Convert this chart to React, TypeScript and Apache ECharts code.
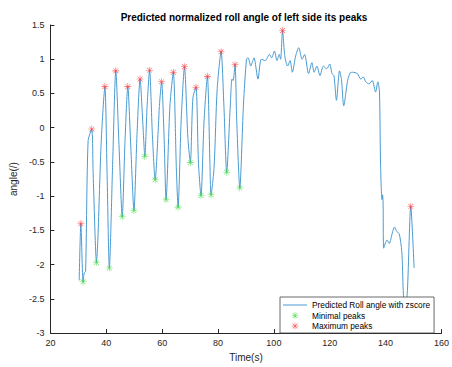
import React, { useEffect, useRef } from 'react';
import * as echarts from 'echarts';

const rollTime = [
  30.3, 30.9, 31.7, 32.1, 32.6, 33.5, 34.8, 35.3, 36.5, 37.0, 38.2, 39.5, 40.3, 41.1, 42.3, 43.4,
  44.6, 45.7, 46.7, 47.7, 48.8, 49.9, 51.0, 52.1, 53.1, 53.8, 54.6, 55.5, 56.5, 57.5, 58.7, 59.0,
  59.8, 60.7, 61.4, 62.8, 64.0, 65.1, 65.7, 66.8, 68.0, 69.2, 70.1, 71.0, 72.1, 73.0, 73.9, 75.0,
  76.2, 77.1, 77.5, 78.6, 79.7, 81.1, 82.1, 83.1, 84.4, 85.0, 85.4, 86.1, 86.7, 87.8, 89.1, 90.2,
  90.8, 91.7, 92.4, 92.9, 94.3, 95.5, 96.9, 98.4, 99.2, 100.2, 101.1, 101.9, 102.4, 103.1, 103.9,
  104.9, 105.8, 106.6, 107.8, 108.9, 110.1, 111.0, 112.4, 113.6, 114.4, 115.4, 116.5, 117.7, 118.9,
  120.0, 120.8, 121.5, 122.4, 123.5, 124.2, 125.0, 126.4, 127.3, 128.2, 129.9, 131.1, 132.0, 132.9,
  134.1, 135.2, 136.4, 137.2, 137.8, 138.2, 138.7, 138.9, 139.1, 139.3, 140.5, 141.3, 142.5, 143.2,
  143.8, 144.3, 144.9, 145.8, 146.3, 146.9, 147.8, 149.0, 150.2,
];
const rollAngle = [
  -2.23, -1.4, -2.25, -2.12, -2.1, -0.19, -0.02, -0.67, -1.97, -1.62, -0.19, 0.6, -0.7, -2.05, -0.5, 0.83,
  -0.3, -1.3, -0.2, 0.6, -0.3, -1.21, -0.1, 0.71, 0.05, -0.42, 0.3, 0.84, -0.1, -0.76, 0.05, 0.31,
  0.67, -0.14, -1.05, 0.33, 0.81, -0.62, -1.16, 0.1, 0.89, -0.14, -0.51, 0.43, 0.59, -0.52, -0.99, 0.1,
  0.75, -0.52, -0.98, -0.57, 0.57, 1.11, 0.33, -0.65, 0.33, 0.71, 0.69, 0.92, 0.1, -0.88, 0.33, 1.0,
  1.02, 0.9, 0.97, 1.02, 0.71, 1.0, 0.98, 1.07, 1.02, 1.12, 0.98, 1.07, 1.0, 1.42, 1.05,
  0.9, 0.98, 0.81, 1.05, 1.17, 1.0, 1.07, 0.79, 0.95, 0.81, 0.9, 0.76, 0.9, 0.86,
  0.93, 0.79, 0.76, 0.4, 0.83, 0.7, 0.32, 0.69, 0.8, 0.81, 0.79, 0.71, 0.74, 0.67,
  0.64, 0.69, 0.52, 0.67, 0.52, -0.57, -1.05, -0.98, -1.1, -1.76, -1.64, -1.69, -1.52, -1.45,
  -1.5, -1.53, -1.55, -1.81, -2.38, -2.75, -2.38, -1.15, -2.05,
];

const minTime = [31.7, 36.5, 41.1, 45.7, 49.9, 53.8, 57.5, 61.4, 65.7, 70.1, 73.9, 77.5, 83.1, 87.8];
const minAngle = [-2.25, -1.97, -2.05, -1.3, -1.21, -0.42, -0.76, -1.05, -1.16, -0.51, -0.99, -0.98, -0.65, -0.88];

const maxTime = [30.9, 34.8, 39.5, 43.4, 47.7, 52.1, 55.5, 59.8, 64.0, 68.0, 72.1, 76.2, 81.1, 86.1, 103.1, 149.0];
const maxAngle = [-1.4, -0.02, 0.6, 0.83, 0.6, 0.71, 0.84, 0.67, 0.81, 0.89, 0.59, 0.75, 1.11, 0.92, 1.42, -1.15];

const seriesNames = ['Predicted Roll angle with zscore', 'Minimal peaks', 'Maximum peaks'];

const STAR =
  'path://M0,9.2L20,9.2L20,10.8L0,10.8Z M9.2,0L10.8,0L10.8,20L9.2,20Z M3.57,2.43L17.57,16.43L16.43,17.57L2.43,3.57Z M16.43,2.43L17.57,3.57L3.57,17.57L2.43,16.43Z';
const LINE_ICON = 'path://M0,0L24,0L24,1L0,1Z';

const AXIS = '#262626';
const FONT = '"Liberation Sans", Arial, sans-serif';

export default function App() {
  const ref = useRef<HTMLDivElement>(null);
  useEffect(() => {
    const chart = echarts.init(ref.current!, null, { renderer: 'svg' });
    const zip = (a: number[], b: number[]) => a.map((t, i) => [t, b[i]]);
    chart.setOption({
      animation: false,
      backgroundColor: '#fff',
      textStyle: { fontFamily: FONT },
      title: {
        text: 'Predicted normalized roll angle of left side its peaks',
        left: 244,
        textAlign: 'center',
        top: 12,
        padding: 0,
        textStyle: { fontSize: 10, fontWeight: 'bold', color: '#000', fontFamily: FONT },
      },
      grid: { left: 44.7, right: 8, top: 25, bottom: 27, containLabel: false },
      xAxis: {
        type: 'value',
        min: 20,
        max: 160,
        interval: 20,
        name: 'Time(s)',
        nameLocation: 'middle',
        nameGap: 16,
        nameTextStyle: { fontSize: 10, color: AXIS, fontFamily: FONT },
        axisLine: { show: true, onZero: false, lineStyle: { color: AXIS, width: 1 } },
        axisTick: { show: true, inside: true, length: 4, lineStyle: { color: AXIS } },
        axisLabel: { color: AXIS, fontSize: 9, margin: 5, fontFamily: FONT },
        splitLine: { show: false },
      },
      yAxis: {
        type: 'value',
        min: -3,
        max: 1.5,
        interval: 0.5,
        name: 'angle(/)',
        nameLocation: 'middle',
        nameGap: 27,
        nameTextStyle: { fontSize: 10, color: AXIS, fontFamily: FONT },
        axisLine: { show: true, onZero: false, lineStyle: { color: AXIS, width: 1 } },
        axisTick: { show: true, inside: true, length: 4, lineStyle: { color: AXIS } },
        axisLabel: { color: AXIS, fontSize: 9, margin: 6, fontFamily: FONT },
        splitLine: { show: false },
      },
      legend: {
        orient: 'vertical',
        left: 280,
        top: 297,
        padding: [3, 4, 2, 3],
        itemWidth: 24,
        itemHeight: 7,
        itemGap: 0.5,
        backgroundColor: '#fff',
        borderColor: '#444',
        borderWidth: 0.8,
        borderRadius: 0,
        z: 10,
        textStyle: { fontSize: 8.3, color: '#000', lineHeight: 10, fontFamily: FONT },
        data: [
          { name: seriesNames[0], icon: LINE_ICON },
          { name: seriesNames[1] },
          { name: seriesNames[2] },
        ],
      },
      series: [
        {
          name: seriesNames[0],
          type: 'line',
          data: zip(rollTime, rollAngle),
          symbol: 'none',
          smooth: 0.25,
          lineStyle: { color: '#4a9bd2', width: 1 },
          itemStyle: { color: '#4a9bd2' },
          z: 2,
        },
        {
          name: seriesNames[1],
          type: 'scatter',
          data: zip(minTime, minAngle),
          symbol: STAR,
          symbolSize: 7,
          itemStyle: { color: '#3fd83f' },
          z: 3,
        },
        {
          name: seriesNames[2],
          type: 'scatter',
          data: zip(maxTime, maxAngle),
          symbol: STAR,
          symbolSize: 7,
          itemStyle: { color: '#ff3333' },
          z: 3,
        },
      ],
    });
    return () => chart.dispose();
  }, []);
  return <div ref={ref} style={{ position: 'absolute', left: 0, top: 0, width: 452, height: 367 }} />;
}
